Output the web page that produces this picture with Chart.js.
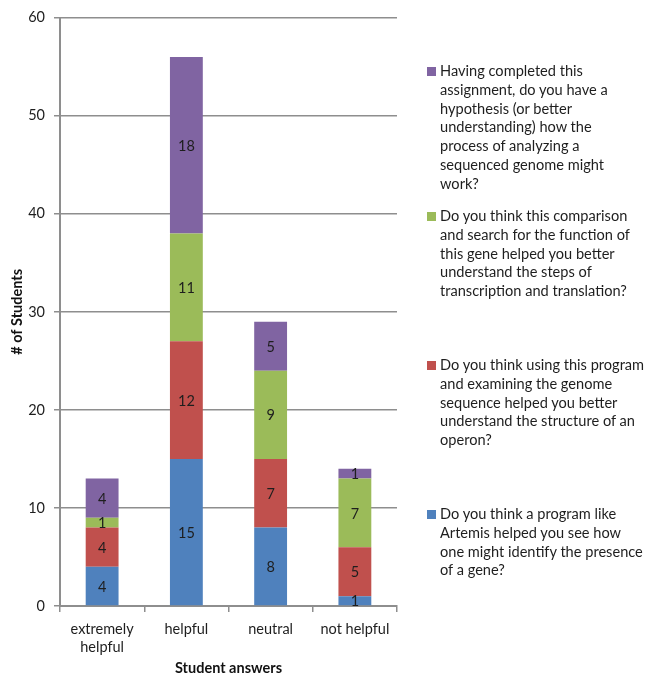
<!DOCTYPE html>
<html>
<head>
<meta charset="utf-8">
<script src="https://cdn.jsdelivr.net/npm/chart.js@4.4.0/dist/chart.umd.min.js"></script>
<style>
  html, body { margin: 0; padding: 0; background: #fff; }
  #wrap { position: relative; width: 648px; height: 677px; }
  #chart { position: absolute; left: 0; top: 0; }
  .leg { position: absolute; left: 427px; font-family: Lato, "Open Sans", sans-serif; font-size: 14.6px; line-height: 18.8px; color: #1e1e1e; white-space: nowrap; }
  .leg .sw { position: absolute; left: 0; top: 5px; width: 9px; height: 9px; }
  .leg .tx { margin-left: 13px; }
</style>
</head>
<body>
<div id="wrap">
  <canvas id="chart" width="648" height="677"></canvas>
  <div id="legend"></div>
</div>
<script>
const categories = [["extremely", "helpful"], "helpful", "neutral", "not helpful"];
const artemisValues = [4, 15, 8, 1];
const operonValues = [4, 12, 7, 5];
const transcriptionValues = [1, 11, 9, 7];
const hypothesisValues = [4, 18, 5, 1];
const yTicks = [0, 10, 20, 30, 40, 50, 60];

const seriesNames = [
  "Do you think a program like Artemis helped you see how one might identify the presence of a gene?",
  "Do you think using this program and examining the genome sequence helped you better understand the structure of an operon?",
  "Do you think this comparison and search for the function of this gene helped you better understand the steps of transcription and translation?",
  "Having completed this assignment, do you have a hypothesis (or better understanding) how the process of analyzing a sequenced genome might work?"
];
const legendLines = [
  ["Do you think a program like", "Artemis helped you see how", "one might identify the presence", "of a gene?"],
  ["Do you think using this program", "and examining the genome", "sequence helped you better", "understand the structure of an", "operon?"],
  ["Do you think this comparison", "and search for the function of", "this gene helped you better", "understand the steps of", "transcription and translation?"],
  ["Having completed this", "assignment, do you have a", "hypothesis (or better", "understanding) how the", "process of analyzing a", "sequenced genome might", "work?"]
];
const colors = ["#4F81BD", "#C0504D", "#9BBB59", "#8064A2"];
const legendTops = [505, 356, 207, 62];

const FONT = "Lato, 'Open Sans', sans-serif";
const GRID = "#8e8e8e";

const valueLabels = {
  id: "valueLabels",
  afterDatasetsDraw(chart) {
    const ctx = chart.ctx;
    ctx.save();
    ctx.font = "14.5px " + FONT;
    ctx.fillStyle = "#1e1e1e";
    ctx.textAlign = "center";
    ctx.textBaseline = "middle";
    chart.data.datasets.forEach((ds, i) => {
      const meta = chart.getDatasetMeta(i);
      meta.data.forEach((el, j) => {
        const v = ds.data[j];
        if (!v) return;
        const p = el.getProps(["x", "y", "base"], true);
        ctx.fillText(String(v), p.x, (p.y + p.base) / 2 + 1);
      });
    });
    ctx.restore();
  }
};

const datasets = [artemisValues, operonValues, transcriptionValues, hypothesisValues].map((d, i) => ({
  label: seriesNames[i],
  data: d,
  backgroundColor: colors[i],
  borderWidth: 0,
  barPercentage: 0.39,
  categoryPercentage: 1.0
}));

new Chart(document.getElementById("chart"), {
  type: "bar",
  data: { labels: categories, datasets },
  plugins: [valueLabels],
  options: {
    responsive: false,
    animation: false,
    devicePixelRatio: 1,
    layout: { padding: { left: 0, right: 251, top: 16, bottom: 0 } },
    plugins: { legend: { display: false }, tooltip: { enabled: false } },
    scales: {
      x: {
        stacked: true,
        offset: true,
        afterFit(scale) { scale.height = 71; },
        grid: { drawOnChartArea: false, drawTicks: true, tickLength: 6, color: GRID, lineWidth: 1.5, offset: true },
        border: { color: GRID, width: 2 },
        ticks: { color: "#1e1e1e", font: { family: FONT, size: 14.5, lineHeight: 1.25 }, padding: 8, maxRotation: 0, autoSkip: false },
        title: { display: true, text: "Student answers", color: "#111", font: { family: FONT, size: 14.5, weight: "bold" }, padding: { top: 0, bottom: 0 } }
      },
      y: {
        stacked: true,
        min: 0,
        max: 60,
        afterFit(scale) { scale.width = 60; },
        afterBuildTicks(scale) { scale.ticks = yTicks.map(v => ({ value: v })); },
        grid: { color: GRID, lineWidth: 1.5, tickLength: 6 },
        border: { color: GRID, width: 2 },
        ticks: { color: "#1e1e1e", font: { family: FONT, size: 14.5 }, padding: 9 },
        title: { display: true, text: "# of Students", color: "#111", font: { family: FONT, size: 14.5, weight: "bold" }, padding: { top: 9, bottom: 0 } }
      }
    }
  }
});

const legendEl = document.getElementById("legend");
[3, 2, 1, 0].forEach(i => {
  const item = document.createElement("div");
  item.className = "leg";
  item.style.top = legendTops[i] + "px";
  const sw = document.createElement("div");
  sw.className = "sw";
  sw.style.background = colors[i];
  const tx = document.createElement("div");
  tx.className = "tx";
  tx.innerHTML = legendLines[i].join("<br>");
  item.appendChild(sw);
  item.appendChild(tx);
  legendEl.appendChild(item);
});
</script>
</body>
</html>
